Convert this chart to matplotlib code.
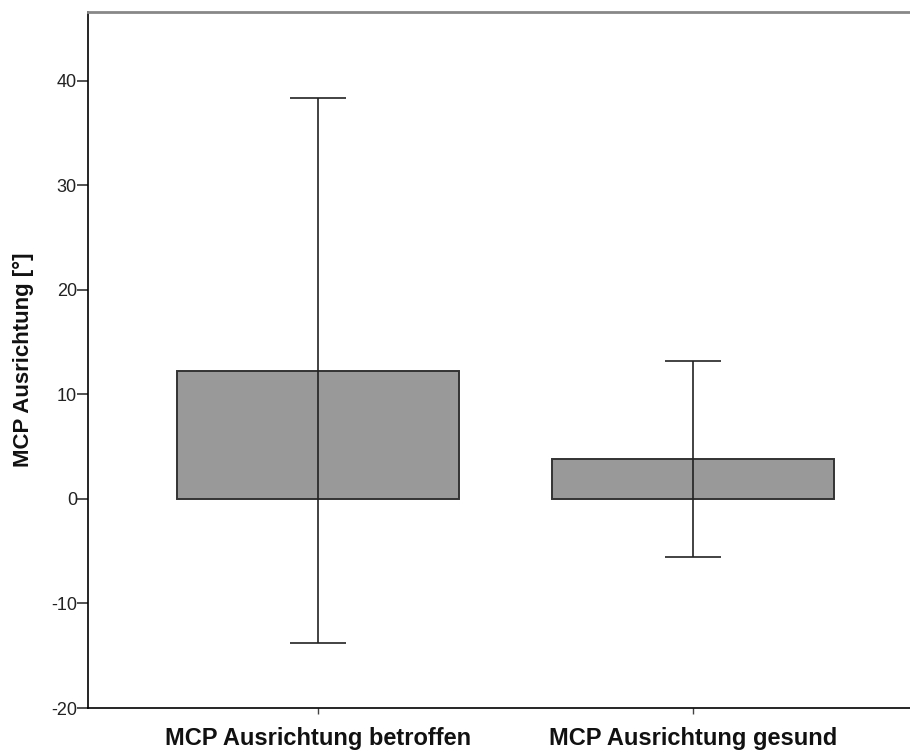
import matplotlib.pyplot as plt
import numpy as np

plt.rcParams['font.family'] = ['Liberation Sans', 'DejaVu Sans']

categories = ['MCP Ausrichtung betroffen', 'MCP Ausrichtung gesund']
means = [12.25, 3.85]
err_low = [-13.8, -5.6]
err_high = [38.3, 13.2]
yticks = [-20, -10, 0, 10, 20, 30, 40]

fig = plt.figure(figsize=(9.1, 7.52), dpi=100)
ax = fig.add_axes([0.0967, 0.0585, 0.9033, 0.926])

x = np.arange(len(categories))
ax.bar(x, means, width=0.752, color='#999999', edgecolor='#333333', linewidth=1.4, zorder=2)

lower = np.array(means) - np.array(err_low)
upper = np.array(err_high) - np.array(means)
ax.errorbar(x, means, yerr=[lower, upper], fmt='none', ecolor='#222222',
            elinewidth=1.2, capsize=20.5, capthick=1.2, zorder=3)

ax.set_xlim(-0.613, 1.579)
ax.set_ylim(-20, 46.6)
ax.set_yticks(yticks)
ax.set_yticklabels([str(t) for t in yticks], fontsize=13, color='#222222')
ax.set_xticks(x)
ax.set_xticklabels(categories, fontsize=17, fontweight='bold', color='#111111')
ax.tick_params(axis='x', length=4, width=1.0, pad=10, color='#444444')
ax.tick_params(axis='y', length=8, width=1.2, pad=0, color='#333333')
ax.set_ylabel('MCP Ausrichtung [°]', fontsize=16, fontweight='bold', labelpad=12, color='#111111')

ax.spines['right'].set_visible(False)
ax.spines['top'].set_color('#888888')
ax.spines['top'].set_linewidth(2)
ax.spines['left'].set_linewidth(1.2)
ax.spines['bottom'].set_linewidth(1.2)

fig.savefig('out.png', dpi=100)
